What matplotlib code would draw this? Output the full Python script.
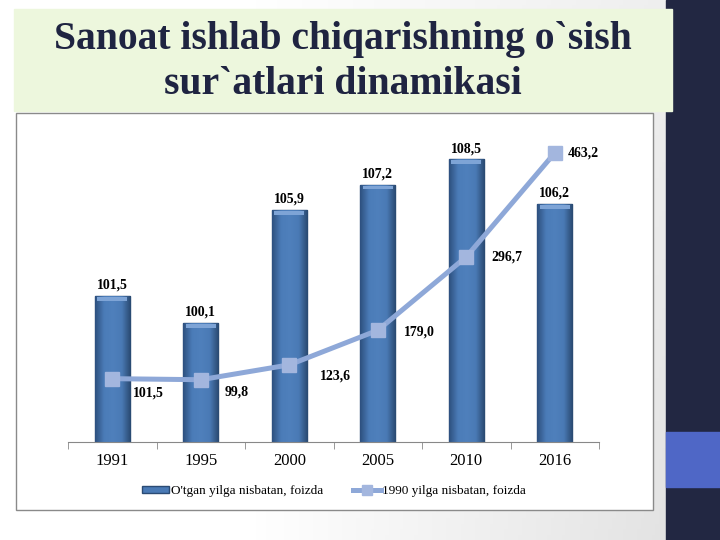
import numpy as np
import matplotlib
matplotlib.use("Agg")
import matplotlib.pyplot as plt
from matplotlib.patches import Rectangle, Patch
from matplotlib.lines import Line2D
from matplotlib.colors import LinearSegmentedColormap

# Chart data
years = ["1991", "1995", "2000", "2005", "2010", "2016"]
prev_year = [101.5, 100.1, 105.9, 107.2, 108.5, 106.2]     # O'tgan yilga nisbatan
vs_1990 = [101.5, 99.8, 123.6, 179.0, 296.7, 463.2]        # 1990 yilga nisbatan
title_lines = ["Sanoat ishlab chiqarishning o`sish", "sur`atlari dinamikasi"]
legend_labels = ["O'tgan yilga nisbatan, foizda", "1990 yilga nisbatan, foizda"]

# label offsets (points) for the line values
line_lbl_off = [(15, -10), (17, -9), (22, -8), (19, -1), (18, 0), (9, 0)]

plt.rcParams["font.family"] = ["Liberation Serif", "DejaVu Serif"]

fig = plt.figure(figsize=(7.2, 5.4), dpi=100)

# slide background
bg = fig.add_axes([0, 0, 1, 1])
bg.set_xlim(0, 720)
bg.set_ylim(540, 0)
bg.axis("off")
gx = np.linspace(0, 1, 200)
gy = np.linspace(0, 1, 100)
GX, GY = np.meshgrid(gx, gy)
shade = np.clip((GX - 0.35) / 0.6, 0, 1) * (0.6 + 0.4 * GY)
bg_cmap = LinearSegmentedColormap.from_list("bg", ["#ffffff", "#e2e2e2"])
bg.imshow(shade, extent=[0, 720, 540, 0], cmap=bg_cmap, aspect="auto", zorder=0)
bg.add_patch(Rectangle((666, 0), 54, 540, color="#222742", zorder=1))
bg.add_patch(Rectangle((666, 432), 54, 55, color="#4f67c6", zorder=2))
bg.add_patch(Rectangle((14, 9), 658, 102, color="#edf7dd", zorder=1))
bg.add_patch(Rectangle((16, 113), 637, 397, facecolor="white",
                       edgecolor="#8a8a8a", lw=1, zorder=1))
bg.text(343, 39, title_lines[0], ha="center", va="center", fontsize=28.5,
        fontweight="bold", color="#1f2441", zorder=3)
bg.text(343, 84, title_lines[1], ha="center", va="center", fontsize=28.5,
        fontweight="bold", color="#1f2441", zorder=3)

# chart
ax = fig.add_axes([68 / 720, 1 - 442 / 540, 531 / 720, 312 / 540])
ax.patch.set_alpha(0)
x = np.arange(len(years))
bars = ax.bar(x, prev_year, width=0.4, color="#4a7ab5", edgecolor="#2b4b74",
              lw=1, zorder=2)
bar_cmap = LinearSegmentedColormap.from_list(
    "bar", ["#2e5180", "#4b7cb8", "#4f80bc", "#4a7ab5", "#2a4a72"])
ylo, yhi = 94, 110
for r in bars:
    x0, w, top = r.get_x(), r.get_width(), r.get_height()
    im = ax.imshow(np.linspace(0, 1, 50).reshape(1, -1), cmap=bar_cmap,
                   extent=[x0, x0 + w, ylo, top], aspect="auto", zorder=2.1)
    im.set_clip_path(r)
    ax.add_patch(Rectangle((x0 + 0.03, top - 0.25), w - 0.06, 0.2,
                           color="#7ea4d6", zorder=2.2, lw=0))
for xi, v in zip(x, prev_year):
    ax.annotate(f"{v:.1f}".replace(".", ","), (xi, v), xytext=(0, 3),
                textcoords="offset points", ha="center", va="bottom",
                fontsize=10, fontweight="bold")
ax.set_xlim(-0.5, 5.5)
ax.set_ylim(ylo, yhi)
ax.set_yticks([])
for s in ["top", "right", "left"]:
    ax.spines[s].set_visible(False)
ax.spines["bottom"].set_color("#888888")
ax.set_xticks(x)
ax.set_xticklabels(years, fontsize=12)
ax.tick_params(axis="x", length=0, pad=8)
ax.set_xticks(np.arange(-0.5, 6, 1), minor=True)
ax.tick_params(axis="x", which="minor", length=5, color="#888888")

ax2 = ax.twinx()
ax2.plot(x, vs_1990, color="#8ea8d8", lw=3.6, marker="s", ms=10,
         mfc="#a3b6de", mec="#a3b6de", zorder=3)
for xi, v, off in zip(x, vs_1990, line_lbl_off):
    ax2.annotate(f"{v:.1f}".replace(".", ","), (xi, v), xytext=off,
                 textcoords="offset points", ha="left", va="center",
                 fontsize=10, fontweight="bold")
ax2.set_ylim(0, 500)
ax2.set_yticks([])
for s in ax2.spines.values():
    s.set_visible(False)

handles = [Patch(facecolor="#4a7ab5", edgecolor="#2b4b74"),
           Line2D([], [], color="#8ea8d8", lw=3.6, marker="s", ms=7,
                  mfc="#a3b6de", mec="#a3b6de")]
fig.legend(handles, legend_labels, loc="center", ncol=2,
           bbox_to_anchor=(334 / 720, 1 - 491 / 540), frameon=False,
           fontsize=9.5, handlelength=2.1, handleheight=0.5,
           handletextpad=0.1, columnspacing=2.3)

fig.savefig("out.png", dpi=100)
